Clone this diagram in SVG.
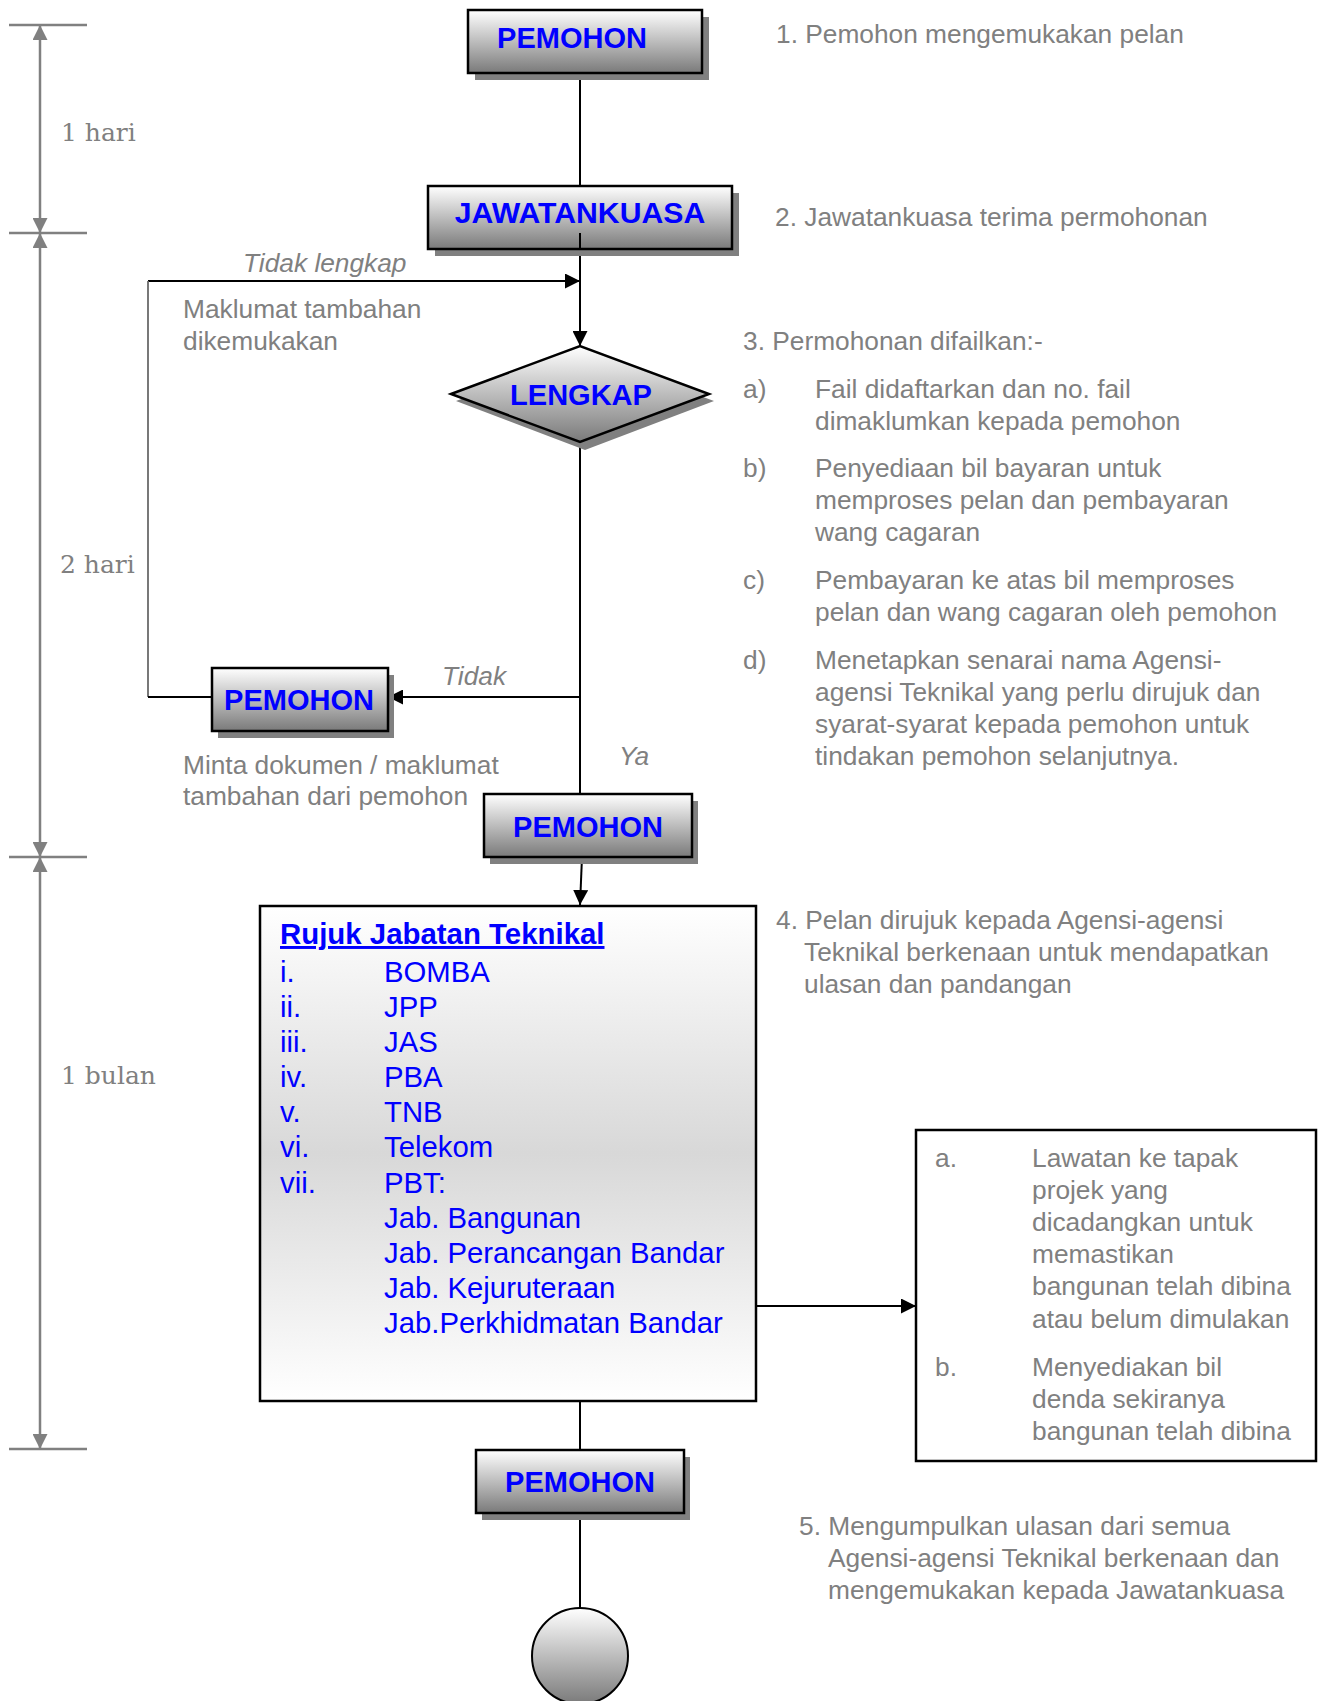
<svg xmlns="http://www.w3.org/2000/svg" width="1322" height="1701" viewBox="0 0 1322 1701">
<style>
.box{stroke:#000;stroke-width:2.5;fill:url(#g)}
.sh{fill:#808080}
.bt{font-family:"Liberation Sans",Arial,sans-serif;font-weight:bold;font-size:29px;fill:#0000ff}
.gt{font-family:"Liberation Sans",Arial,sans-serif;font-size:26.3px;fill:#808080}
.it{font-family:"Liberation Sans",Arial,sans-serif;font-size:26.3px;font-style:italic;fill:#808080}
.tl{font-family:"DejaVu Serif","Liberation Serif",serif;font-size:25px;fill:#808080}
.lt{font-family:"Liberation Sans",Arial,sans-serif;font-size:29.3px;fill:#0000ff}
.cn{stroke:#000;stroke-width:2;fill:none}
.tm{stroke:#808080;stroke-width:2.5;fill:none}
</style>
<defs>
<linearGradient id="g" x1="0" y1="0" x2="0" y2="1"><stop offset="0" stop-color="#ffffff"/><stop offset="1" stop-color="#7a7a7a"/></linearGradient>
<linearGradient id="g2" x1="0" y1="0" x2="0" y2="1"><stop offset="0" stop-color="#ffffff"/><stop offset="0.5" stop-color="#d8d8d8"/><stop offset="1" stop-color="#ffffff"/></linearGradient>
<marker id="ab" viewBox="0 0 10 10" refX="10" refY="5" markerWidth="15" markerHeight="15" markerUnits="userSpaceOnUse" orient="auto-start-reverse"><path d="M0,0 L10,5 L0,10 z" fill="#000"/></marker>
<marker id="ag" viewBox="0 0 10 10" refX="10" refY="5" markerWidth="16" markerHeight="15" markerUnits="userSpaceOnUse" orient="auto-start-reverse"><path d="M0,0 L10,5 L0,10 z" fill="#808080"/></marker>
</defs>
<rect width="1322" height="1701" fill="#fff"/>

<g id="timeline">
<line class="tm" x1="9" y1="25" x2="87" y2="25"/>
<line class="tm" x1="9" y1="233" x2="87" y2="233"/>
<line class="tm" x1="9" y1="857" x2="87" y2="857"/>
<line class="tm" x1="9" y1="1449" x2="87" y2="1449"/>
<line class="tm" x1="40" y1="25" x2="40" y2="233" marker-start="url(#ag)" marker-end="url(#ag)"/>
<line class="tm" x1="40" y1="233" x2="40" y2="857" marker-start="url(#ag)" marker-end="url(#ag)"/>
<line class="tm" x1="40" y1="857" x2="40" y2="1449" marker-start="url(#ag)" marker-end="url(#ag)"/>
<text class="tl" x="61" y="141">1 hari</text>
<text class="tl" x="60" y="573">2 hari</text>
<text class="tl" x="61" y="1084">1 bulan</text>
</g>

<g id="connectors">
<line class="cn" x1="580" y1="73" x2="580" y2="186" stroke-width="1.5"/>
<line class="cn" x1="580" y1="233" x2="580" y2="346" marker-end="url(#ab)"/>
<line class="cn" x1="148" y1="281" x2="580" y2="281" stroke-width="2.5" marker-end="url(#ab)"/>
<line x1="148" y1="281" x2="148" y2="697" stroke="#6a6a6a" stroke-width="1.8"/>
<line class="cn" x1="148" y1="697" x2="212" y2="697"/>
<line class="cn" x1="580" y1="442" x2="580" y2="794"/>
<line class="cn" x1="580" y1="697" x2="388" y2="697" marker-end="url(#ab)"/>
<line class="cn" x1="582" y1="857" x2="580" y2="905" marker-end="url(#ab)"/>
<line class="cn" x1="756" y1="1306" x2="916" y2="1306" marker-end="url(#ab)"/>
<line class="cn" x1="580" y1="1401" x2="580" y2="1450" stroke-width="1.5"/>
<line class="cn" x1="580" y1="1513" x2="580" y2="1608" stroke-width="1.5"/>
</g>

<g id="n1">
<rect class="sh" x="475" y="17" width="234" height="63"/>
<rect class="box" x="468" y="10" width="234" height="63"/>
<text class="bt" x="572" y="48" text-anchor="middle">PEMOHON</text>
</g>

<g id="n2">
<rect class="sh" x="435" y="193" width="304" height="63"/>
<rect class="box" x="428" y="186" width="304" height="63"/>
<text class="bt" x="580" y="223" text-anchor="middle" style="font-size:30.2px">JAWATANKUASA</text>
</g>
<line class="cn" x1="580" y1="233" x2="580" y2="249"/>

<g id="n3">
<polygon points="456,401 585,353 714,401 585,450" fill="#808080"/>
<polygon points="451,394 580,346 709,394 580,442" fill="url(#g)" stroke="#000" stroke-width="2.5"/>
<text class="bt" x="581" y="405" text-anchor="middle">LENGKAP</text>
</g>

<g id="n4">
<rect class="sh" x="218" y="675" width="176" height="63"/>
<rect class="box" x="212" y="668" width="176" height="63"/>
<text class="bt" x="299" y="710" text-anchor="middle">PEMOHON</text>
</g>

<g id="n5">
<rect class="sh" x="490" y="801" width="208" height="63"/>
<rect class="box" x="484" y="794" width="208" height="63"/>
<text class="bt" x="588" y="837" text-anchor="middle">PEMOHON</text>
</g>

<g id="n6">
<rect x="260" y="906" width="496" height="495" fill="url(#g2)" stroke="#000" stroke-width="2.5"/>
<text class="bt" x="280" y="944" text-decoration="underline" style="font-size:29.4px">Rujuk Jabatan Teknikal</text>
<text class="lt" x="280" y="982">i.</text><text class="lt" x="384" y="982">BOMBA</text>
<text class="lt" x="280" y="1017">ii.</text><text class="lt" x="384" y="1017">JPP</text>
<text class="lt" x="280" y="1052">iii.</text><text class="lt" x="384" y="1052">JAS</text>
<text class="lt" x="280" y="1087">iv.</text><text class="lt" x="384" y="1087">PBA</text>
<text class="lt" x="280" y="1122">v.</text><text class="lt" x="384" y="1122">TNB</text>
<text class="lt" x="280" y="1157">vi.</text><text class="lt" x="384" y="1157">Telekom</text>
<text class="lt" x="280" y="1193">vii.</text><text class="lt" x="384" y="1193">PBT:</text>
<text class="lt" x="384" y="1228">Jab. Bangunan</text>
<text class="lt" x="384" y="1263">Jab. Perancangan Bandar</text>
<text class="lt" x="384" y="1298">Jab. Kejuruteraan</text>
<text class="lt" x="384" y="1333">Jab.Perkhidmatan Bandar</text>
</g>

<g id="n7">
<rect x="916" y="1130" width="400" height="331" fill="#fff" stroke="#000" stroke-width="2.5"/>
<text class="gt" x="935" y="1167">a.</text>
<text class="gt" x="1032" y="1167">Lawatan ke tapak</text>
<text class="gt" x="1032" y="1199">projek yang</text>
<text class="gt" x="1032" y="1231">dicadangkan untuk</text>
<text class="gt" x="1032" y="1263">memastikan</text>
<text class="gt" x="1032" y="1295">bangunan telah dibina</text>
<text class="gt" x="1032" y="1328">atau belum dimulakan</text>
<text class="gt" x="935" y="1376">b.</text>
<text class="gt" x="1032" y="1376">Menyediakan bil</text>
<text class="gt" x="1032" y="1408">denda sekiranya</text>
<text class="gt" x="1032" y="1440">bangunan telah dibina</text>
</g>

<g id="n8">
<rect class="sh" x="482" y="1457" width="208" height="63"/>
<rect class="box" x="476" y="1450" width="208" height="63"/>
<text class="bt" x="580" y="1492" text-anchor="middle">PEMOHON</text>
</g>

<g id="n9">
<circle cx="580" cy="1656" r="48" fill="url(#g)" stroke="#000" stroke-width="2"/>
</g>

<g id="labels">
<text class="it" x="243" y="272">Tidak lengkap</text>
<text class="gt" x="183" y="318">Maklumat tambahan</text>
<text class="gt" x="183" y="350">dikemukakan</text>
<text class="it" x="442" y="685">Tidak</text>
<text class="gt" x="183" y="774">Minta dokumen / maklumat</text>
<text class="gt" x="183" y="805">tambahan dari pemohon</text>
<text class="it" x="619" y="765">Ya</text>
</g>

<g id="notes">
<text class="gt" x="776" y="43">1. Pemohon mengemukakan pelan</text>
<text class="gt" x="775" y="226">2. Jawatankuasa terima permohonan</text>
<text class="gt" x="743" y="350">3. Permohonan difailkan:-</text>
<text class="gt" x="743" y="398">a)</text>
<text class="gt" x="815" y="398">Fail didaftarkan dan no. fail</text>
<text class="gt" x="815" y="430">dimaklumkan kepada pemohon</text>
<text class="gt" x="743" y="477">b)</text>
<text class="gt" x="815" y="477">Penyediaan bil bayaran untuk</text>
<text class="gt" x="815" y="509">memproses pelan dan pembayaran</text>
<text class="gt" x="815" y="541">wang cagaran</text>
<text class="gt" x="743" y="589">c)</text>
<text class="gt" x="815" y="589">Pembayaran ke atas bil memproses</text>
<text class="gt" x="815" y="621">pelan dan wang cagaran oleh pemohon</text>
<text class="gt" x="743" y="669">d)</text>
<text class="gt" x="815" y="669">Menetapkan senarai nama Agensi-</text>
<text class="gt" x="815" y="701">agensi Teknikal yang perlu dirujuk dan</text>
<text class="gt" x="815" y="733">syarat-syarat kepada pemohon untuk</text>
<text class="gt" x="815" y="765">tindakan pemohon selanjutnya.</text>
<text class="gt" x="776" y="929">4. Pelan dirujuk kepada Agensi-agensi</text>
<text class="gt" x="804" y="961">Teknikal berkenaan untuk mendapatkan</text>
<text class="gt" x="804" y="993">ulasan dan pandangan</text>
<text class="gt" x="799" y="1535">5. Mengumpulkan ulasan dari semua</text>
<text class="gt" x="828" y="1567">Agensi-agensi Teknikal berkenaan dan</text>
<text class="gt" x="828" y="1599">mengemukakan kepada Jawatankuasa</text>
</g>
</svg>
